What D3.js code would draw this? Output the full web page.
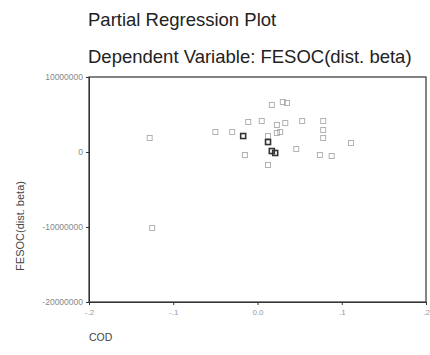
<!DOCTYPE html>
<html><head><meta charset="utf-8">
<script src="https://cdn.jsdelivr.net/npm/d3@7/dist/d3.min.js"></script>
<style>body{margin:0;background:#fff}svg{display:block}</style>
</head><body>
<script>
const xTicks = [-0.2, -0.1, 0.0, 0.1, 0.2];
const xTickLabels = ["-.2", "-.1", "0.0", ".1", ".2"];
const yTicks = [10000000, 0, -10000000, -20000000];
const yTickLabels = ["10000000", "0", "-10000000", "-20000000"];
const codX = [-0.128, -0.125, -0.050, -0.030, -0.017, -0.015, -0.011, 0.005, 0.0125, 0.0125, 0.021, 0.017, 0.023, 0.023, 0.027, 0.017, 0.030, 0.035, 0.033, 0.053, 0.046, 0.0125, 0.078, 0.078, 0.078, 0.074, 0.088, 0.111];
const fesocY = [1870000, -10130000, 2670000, 2670000, 2130000, -400000, 4000000, 4130000, 2130000, 1330000, -130000, 130000, 2530000, 3600000, 2670000, 6270000, 6670000, 6530000, 3870000, 4130000, 400000, -1730000, 4130000, 2930000, 1870000, -400000, -530000, 1200000];
const dark = [0,0,0,0,1,0,0,0,0,1,1,1,0,0,0,0,0,0,0,0,0,0,0,0,0,0,0,0];

const W = 430, H = 355;
const svg = d3.select("body").append("svg").attr("width", W).attr("height", H);
const m = {l: 89, r: 426, t: 77, b: 302};
const x = d3.scaleLinear().domain([-0.2, 0.2]).range([m.l, m.r]);
const y = d3.scaleLinear().domain([-20000000, 10000000]).range([m.b, m.t]);

svg.append("text").attr("x", 88).attr("y", 26).attr("font-family", "Liberation Sans, Arial, sans-serif")
  .attr("font-size", 18.5).attr("fill", "#222").text("Partial Regression Plot");
svg.append("text").attr("x", 88).attr("y", 63).attr("font-family", "Liberation Sans, Arial, sans-serif")
  .attr("font-size", 18.5).attr("fill", "#222").text("Dependent Variable: FESOC(dist. beta)");

// frame
svg.append("rect").attr("x", m.l).attr("y", m.t).attr("width", m.r - m.l).attr("height", m.b - m.t)
  .attr("fill", "none").attr("stroke", "#333").attr("stroke-width", 1.2);

const xAxis = d3.axisBottom(x).tickValues(xTicks).tickSize(3).tickFormat((d, i) => xTickLabels[i]);
const gx = svg.append("g").attr("transform", `translate(0,${m.b})`).call(xAxis);
gx.select(".domain").attr("stroke", "#333");
gx.selectAll(".tick line").attr("stroke", "#333");
gx.selectAll(".tick text").attr("font-family", "Liberation Sans, Arial, sans-serif").attr("font-size", 8).attr("fill", "#999").attr("dy", "0.9em");

const yAxis = d3.axisLeft(y).tickValues(yTicks).tickSize(3).tickFormat((d, i) => yTickLabels[i]);
const gy = svg.append("g").attr("transform", `translate(${m.l},0)`).call(yAxis);
gy.select(".domain").attr("stroke", "#333");
gy.selectAll(".tick line").attr("stroke", "#333");
gy.selectAll(".tick text").attr("font-family", "Liberation Sans, Arial, sans-serif").attr("font-size", 8.5).attr("fill", "#888");

svg.append("text").attr("transform", "translate(24,226) rotate(-90)").attr("text-anchor", "middle")
  .attr("font-family", "Liberation Sans, Arial, sans-serif").attr("font-size", 11).attr("fill", "#444").text("FESOC(dist. beta)");
svg.append("text").attr("x", 89).attr("y", 341)
  .attr("font-family", "Liberation Sans, Arial, sans-serif").attr("font-size", 10.5).attr("fill", "#444").text("COD");

svg.append("g").selectAll("rect").data(codX).join("rect")
  .attr("x", (d) => x(d) - 2.5).attr("y", (d, i) => y(fesocY[i]) - 2.5)
  .attr("width", 5).attr("height", 5).attr("fill", "none")
  .attr("stroke", (d, i) => dark[i] ? "#333" : "#aaa").attr("stroke-width", (d, i) => dark[i] ? 1.6 : 0.9);
</script>
</body></html>
